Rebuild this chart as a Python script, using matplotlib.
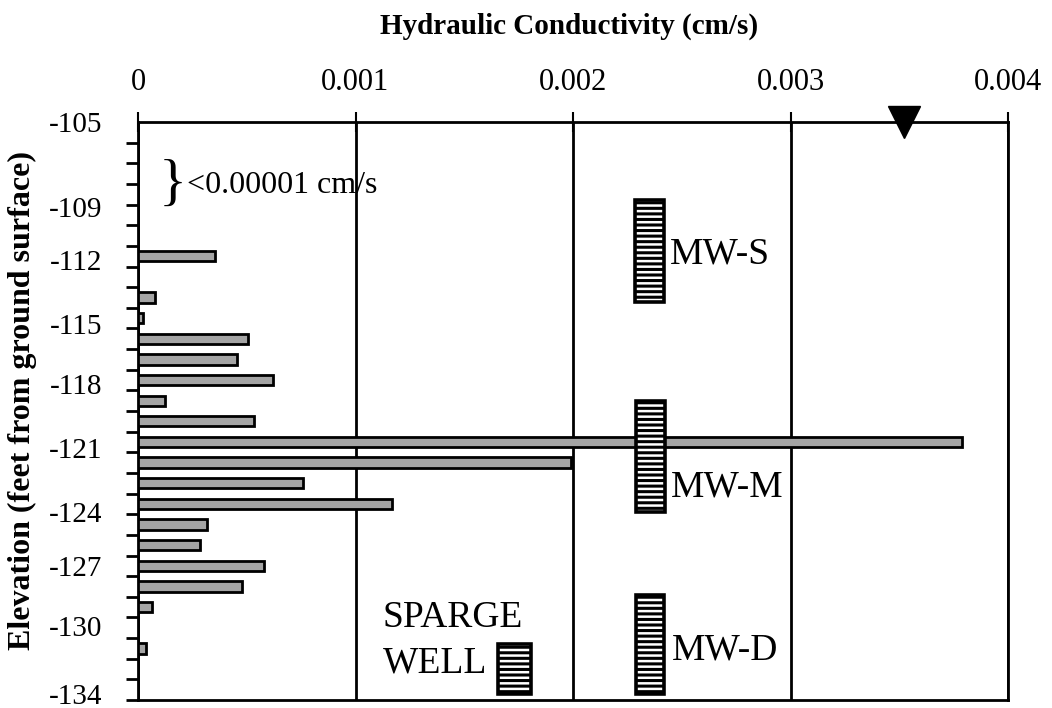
"""
Hydraulic conductivity profile with monitoring well screens
"""

import matplotlib
matplotlib.use("Agg")
import matplotlib.pyplot as plt

# Data: elevation of each test interval (ft) and conductivity (cm/s)
elevations = [-112, -114, -115, -116, -117, -118, -119, -120, -121, -122,
              -123, -124, -125, -126, -127, -128, -129, -131]
conductivity = [0.000354, 0.000078, 0.000023, 0.000506, 0.000455, 0.00062,
                0.000124, 0.000533, 0.00379, 0.00199, 0.000757, 0.00117,
                0.000318, 0.000285, 0.00058, 0.000478, 0.000064, 0.000037]

# Well screens: name, x extent (cm/s axis) and elevation extent (ft)
well_names = ["MW-S", "MW-M", "MW-D", "SPARGE"]
well_left = [0.002285, 0.002290, 0.002290, 0.001655]
well_right = [0.002420, 0.002425, 0.002420, 0.001807]
well_top = [-109.3, -119.0, -128.4, -130.8]
well_bottom = [-114.2, -124.4, -133.2, -133.2]

water_table_k = 0.00352

xtick_values = [0, 0.001, 0.002, 0.003, 0.004]
xtick_labels = ["0", "0.001", "0.002", "0.003", "0.004"]
ytick_labels = ["-105", "-109", "-112", "-115", "-118", "-121", "-124",
                "-127", "-130", "-134"]
ytick_pos = [-105.5, -109.6, -112.2, -115.3, -118.2, -121.3, -124.4,
             -127.0, -129.9, -133.2]

SERIF = "Liberation Serif"
plt.rcParams["font.family"] = [SERIF, "DejaVu Serif"]
plt.rcParams["hatch.linewidth"] = 2.2

fig = plt.figure(figsize=(10.52, 7.08), dpi=100)
ax = fig.add_axes([138 / 1052, 1 - 700 / 708, 870 / 1052, 578 / 708])

# conductivity bars
ax.barh(elevations, conductivity, height=0.5, left=0,
        color="#a4a4a4", edgecolor="black", linewidth=2, zorder=3)

# well screens
for name, l, r, t, b in zip(well_names, well_left, well_right, well_top, well_bottom):
    ax.barh((t + b) / 2, r - l, height=t - b, left=l, color="white",
            edgecolor="black", linewidth=2.6, hatch="---", zorder=4)

# labels next to the screens
ax.text(0.002446, -111.9, "MW-S", fontsize=27, ha="left", va="center", zorder=5)
ax.text(0.002450, -123.2, "MW-M", fontsize=27, ha="left", va="center", zorder=5)
ax.text(0.002455, -131.1, "MW-D", fontsize=27, ha="left", va="center", zorder=5)
ax.text(0.001126, -129.5, "SPARGE", fontsize=27, ha="left", va="center", zorder=5)
ax.text(0.001126, -131.7, "WELL", fontsize=27, ha="left", va="center", zorder=5)

# note for the untested upper intervals
ax.text(0.00016, -108.6, "}", fontsize=42, ha="center", va="center")
ax.text(0.000225, -108.6, "<0.00001 cm/s", fontsize=23, ha="left", va="center")

# water table marker
ax.plot([water_table_k], [-105.5], marker="v", markersize=23, color="black",
        clip_on=False, zorder=6)

ax.set_xlim(0, 0.004)
ax.set_ylim(-133.5, -105.5)

# x axis on top
ax.xaxis.tick_top()
ax.set_xticks(xtick_values)
ax.set_xticklabels(xtick_labels, fontsize=22)
ax.tick_params(axis="x", which="major", direction="inout", length=14,
               width=1.5, pad=11)
ax.grid(axis="x", color="black", linewidth=2)

# y axis: tick marks at interval boundaries, labels placed separately
ax.set_yticks(ytick_pos)
ax.set_yticklabels(ytick_labels, fontsize=21)
ax.set_yticks([e + 0.5 for e in range(-134, -105)], minor=True)
ax.tick_params(axis="y", which="major", length=0, pad=26)
ax.tick_params(axis="y", which="minor", direction="out", length=9, width=2)

for s in ax.spines.values():
    s.set_linewidth(2)
    s.set_color("black")

fig.text(569 / 1052, 1 - 26 / 708, "Hydraulic Conductivity (cm/s)",
         fontsize=21, fontweight="bold", ha="center", va="center")
fig.text(22 / 1052, 1 - 400 / 708, "Elevation (feet from ground surface)",
         fontsize=23, fontweight="bold", ha="center", va="center", rotation=90)

fig.savefig("out.png", dpi=100)
